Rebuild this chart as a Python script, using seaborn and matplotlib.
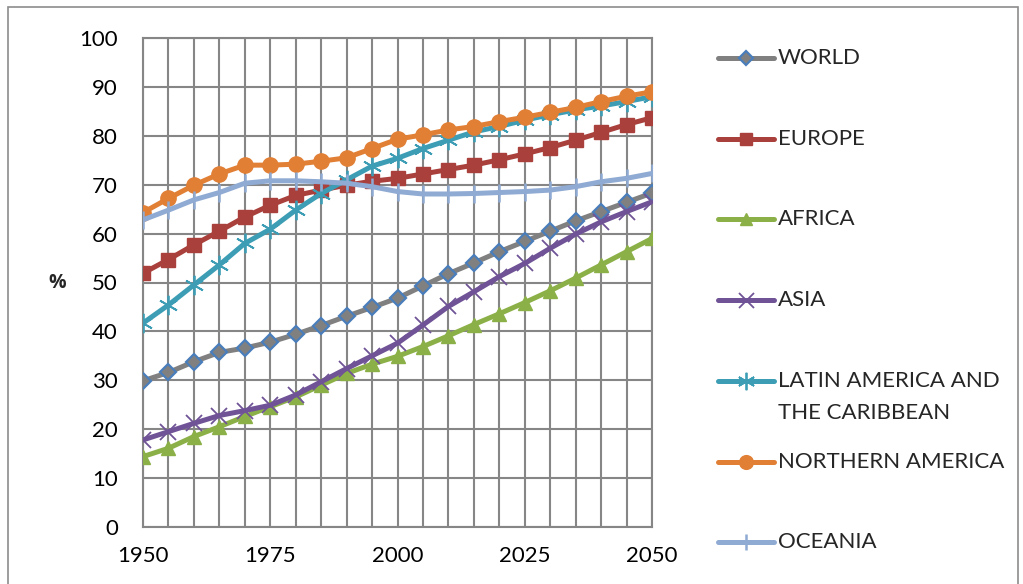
import matplotlib
matplotlib.use("Agg")
import matplotlib.pyplot as plt
from matplotlib.lines import Line2D
from matplotlib.patches import Rectangle
from matplotlib.ticker import MultipleLocator
import pandas as pd
import seaborn as sns

years = list(range(1950, 2051, 5))

world = [29.9, 31.6, 33.8, 35.7, 36.6, 37.8, 39.4, 41.2, 43.1, 44.9, 46.8,
         49.3, 51.8, 54.0, 56.3, 58.4, 60.5, 62.6, 64.5, 66.4, 68.3]
europe = [51.9, 54.7, 57.7, 60.5, 63.4, 65.8, 67.8, 68.9, 69.9, 70.7, 71.3,
          72.2, 73.1, 74.0, 75.1, 76.3, 77.6, 79.1, 80.7, 82.3, 83.7]
africa = [14.4, 16.1, 18.5, 20.5, 22.6, 24.6, 26.6, 29.0, 31.4, 33.3, 34.9,
          36.9, 39.1, 41.4, 43.6, 45.9, 48.3, 50.9, 53.6, 56.3, 59.0]
asia = [17.8, 19.5, 21.2, 22.8, 23.8, 24.9, 27.0, 29.7, 32.4, 35.0, 37.6,
        41.3, 45.1, 48.1, 51.2, 53.9, 57.0, 59.9, 62.4, 64.5, 66.5]
latin_america = [41.7, 45.4, 49.5, 53.6, 58.0, 60.9, 64.8, 68.2, 71.0, 73.8, 75.4,
                 77.4, 79.1, 80.8, 81.9, 83.2, 84.3, 85.3, 86.1, 87.0, 88.0]
northern_america = [64.3, 67.2, 69.9, 72.2, 74.0, 74.0, 74.2, 74.8, 75.5, 77.4, 79.3,
                    80.2, 81.2, 81.9, 82.9, 83.8, 84.8, 85.8, 87.0, 88.1, 89.0]
oceania = [62.8, 64.8, 66.9, 68.4, 70.3, 70.8, 70.8, 70.6, 70.3, 69.6, 68.6,
           68.1, 68.1, 68.2, 68.4, 68.6, 68.9, 69.6, 70.6, 71.3, 72.3]

labels = ["WORLD", "EUROPE", "AFRICA", "ASIA",
          "LATIN AMERICA AND\nTHE CARIBBEAN", "NORTHERN AMERICA", "OCEANIA"]
series = [world, europe, africa, asia, latin_america, northern_america, oceania]

x_ticks = [1950, 1975, 2000, 2025, 2050]

asterisk = (6, 2, 0)  # six-spoke asterisk marker

# line colour, marker, marker face, marker edge, marker size, marker edge width
styles = [
    ("#808080", "D", "#808080", "#4a7ebb", 8, 1.6),
    ("#a9403c", "s", "#a9403c", "#a9403c", 9.5, 1.0),
    ("#8cb048", "^", "#8cb048", "#8cb048", 10, 1.0),
    ("#6f5396", "x", "#6f5396", "#6f5396", 12, 1.3),
    ("#3c9db5", asterisk, "#3c9db5", "#3c9db5", 14, 1.3),
    ("#e17f35", "o", "#e17f35", "#e17f35", 11, 1.0),
    ("#8faad3", "|", "#8faad3", "#8faad3", 13, 1.8),
]

sns.set_theme(style="white")
plt.rcParams["font.family"] = ["Lato", "DejaVu Sans"]

fig = plt.figure(figsize=(10.23, 5.84), dpi=100)
ax = fig.add_axes([143 / 1023, 1 - 527 / 584, (652 - 143) / 1023, (527 - 38) / 584])

grid_color = "#868686"

for vals, (c, m, fc, ec, ms, mew) in zip(series, styles):
    df = pd.DataFrame({"year": years, "pct": vals})
    sns.lineplot(data=df, x="year", y="pct", ax=ax, color=c, linewidth=3.6,
                 marker=m, markersize=ms, markerfacecolor=fc,
                 markeredgecolor=ec, markeredgewidth=mew, zorder=3)

ax.set_xlim(1950, 2050)
ax.set_ylim(0, 100)
ax.set_xticks(x_ticks)
ax.xaxis.set_minor_locator(MultipleLocator(5))
ax.yaxis.set_major_locator(MultipleLocator(10))
ax.grid(True, which="both", color=grid_color, linewidth=1.5, zorder=0)
ax.set_axisbelow(True)
for s in ax.spines.values():
    s.set_color(grid_color)
    s.set_linewidth(1.5)
ax.tick_params(axis="both", which="both", length=0, labelsize=16, colors="#000000")
ax.tick_params(axis="y", pad=18)
ax.tick_params(axis="x", pad=14)
ax.set_xlabel("")
ax.set_ylabel("%", rotation=0, fontsize=14, fontweight="bold",
              family=["Open Sans", "DejaVu Sans"], va="center", ha="center")
ax.yaxis.set_label_coords((57 - 143) / 509, (527 - 283) / 489)

# legend column on the right
y0, step = 58, 80.7
for i, (lab, (c, m, fc, ec, ms, mew)) in enumerate(zip(labels, styles)):
    yp = 1 - (y0 + i * step) / 584
    fig.add_artist(Line2D([718 / 1023, 774 / 1023], [yp, yp], color=c,
                          linewidth=3.6, solid_capstyle="round",
                          transform=fig.transFigure))
    fig.add_artist(Line2D([746 / 1023], [yp], color=c, marker=m,
                          markersize=ms * 0.9, markerfacecolor=fc,
                          markeredgecolor=ec, markeredgewidth=mew,
                          transform=fig.transFigure))
    lines = lab.split("\n")
    for j, txt in enumerate(lines):
        fig.text(778 / 1023, 1 - (y0 + i * step + 32 * j) / 584, txt,
                 fontsize=16, va="center", ha="left")

# chart frame
fig.add_artist(Rectangle((8 / 1023, -0.05), (1018 - 8) / 1023, 1.05 - 7 / 584,
                         transform=fig.transFigure, fill=False,
                         edgecolor="#8c8c8c", linewidth=1.2))

fig.savefig("out.png", dpi=100)
